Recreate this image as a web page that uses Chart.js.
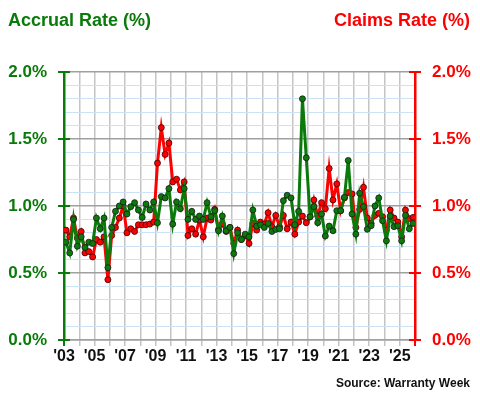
<!DOCTYPE html>
<html>
<head>
<meta charset="utf-8">
<script src="https://cdn.jsdelivr.net/npm/chart.js@4/dist/chart.umd.min.js"></script>
<style>
  body { margin: 0; background: #fff; }
  #wrap { position: relative; width: 480px; height: 400px; font-family: "Liberation Sans", Arial, sans-serif; font-weight: bold; }
  .lbl { position: absolute; white-space: nowrap; }
</style>
</head>
<body>
<div id="wrap">
  <canvas id="grafico" width="480" height="400"></canvas>
  <div class="lbl" style="left:8px; top:10px; font-size:18px; color:#0a7a0a;">Accrual Rate (%)</div>
  <div class="lbl" style="right:10px; top:10px; font-size:18px; color:#ff0000;">Claims Rate (%)</div>
  <div class="lbl" style="right:10px; top:376px; font-size:12px; color:#111;">Source: Warranty Week</div>
</div>
<script>
// datos trimestrales 2003 Q1 .. 2025 Q4
const primerAnio = 2003;
const ultimoAnio = 2026;
const aniosEtiqueta = [2003, 2005, 2007, 2009, 2011, 2013, 2015, 2017, 2019, 2021, 2023, 2025];

const accrualRate = [
  0.73, 0.65, 0.90, 0.70, 0.77, 0.69, 0.73, 0.72,
  0.91, 0.83, 0.91, 0.54, 0.84, 0.96, 1.00, 1.03,
  0.94, 0.995, 1.025, 0.97, 0.915, 1.015, 0.97, 1.03,
  0.875, 1.07, 1.06, 1.13, 0.865, 1.03, 0.98, 1.13,
  0.90, 0.96, 0.90, 0.925, 0.90, 1.025, 0.92, 0.965,
  0.815, 0.925, 0.815, 0.84, 0.645, 0.80, 0.75, 0.79,
  0.77, 0.97, 0.85, 0.86, 0.84, 0.87, 0.81, 0.825,
  0.83, 1.04, 1.08, 1.06, 0.86, 0.96, 1.80, 1.36,
  0.92, 0.995, 0.875, 0.94, 0.776, 0.85, 0.815, 0.965,
  0.965, 1.065, 1.34, 0.94, 0.79, 1.095, 0.995, 0.826,
  0.853, 1.00, 1.06, 0.89, 0.74, 0.925, 0.846, 0.853,
  0.74, 0.93, 0.83, 0.87
];

const claimsRate = [
  0.82, 0.77, 0.91, 0.76, 0.81, 0.65, 0.66, 0.62,
  0.75, 0.73, 0.77, 0.45, 0.78, 0.84, 0.91, 1.00,
  0.80, 0.83, 0.81, 0.86, 0.86, 0.86, 0.865, 0.88,
  1.32, 1.585, 1.385, 1.47, 1.18, 1.20, 1.12, 1.18,
  0.78, 0.83, 0.79, 0.895, 0.77, 0.91, 0.895, 0.975,
  0.825, 0.865, 0.81, 0.84, 0.72, 0.82, 0.75, 0.78,
  0.72, 0.87, 0.82, 0.88, 0.865, 0.95, 0.845, 0.93,
  0.845, 0.93, 0.83, 0.88, 0.79, 0.88, 0.925, 0.875,
  0.92, 1.045, 0.925, 1.025, 0.98, 1.28, 1.045, 1.165,
  0.965, 1.06, 1.10, 1.09, 0.84, 0.975, 1.14, 0.91,
  0.87, 0.93, 0.945, 0.92, 0.82, 0.97, 0.91, 0.88,
  0.77, 0.97, 0.905, 0.915
];

const verde = '#0a7a0a';
const rojo = '#ff0000';

function puntos(serie) {
  return serie.map((v, i) => ({ x: primerAnio + (i + 0.5) / 4, y: v }));
}

function esMayor(v) {
  return Math.abs(Math.round(v * 10) % 5) === 0;
}

// marcas cruzadas en los ejes verticales
const marcasEjes = {
  id: 'marcasEjes',
  afterDraw(chart) {
    const ctx = chart.ctx;
    const area = chart.chartArea;
    [['y', area.left, verde], ['y2', area.right, rojo]].forEach(([id, xEje, color]) => {
      const escala = chart.scales[id];
      ctx.save();
      ctx.strokeStyle = color;
      ctx.lineWidth = 2;
      [0, 0.5, 1, 1.5, 2].forEach((v) => {
        const y = escala.getPixelForValue(v);
        ctx.beginPath();
        ctx.moveTo(xEje - 6, y);
        ctx.lineTo(xEje + 6, y);
        ctx.stroke();
      });
      ctx.beginPath();
      ctx.moveTo(xEje, area.bottom);
      ctx.lineTo(xEje, area.bottom + 6);
      ctx.stroke();
      ctx.restore();
    });
  }
};

new Chart(document.getElementById('grafico'), {
  type: 'line',
  data: {
    datasets: [
      {
        label: 'Accrual Rate',
        data: puntos(accrualRate),
        yAxisID: 'y',
        borderColor: verde,
        backgroundColor: verde,
        borderWidth: 3,
        pointRadius: 3,
        pointBorderColor: '#1a1a1a',
        pointBorderWidth: 0.8,
        pointBackgroundColor: verde,
        tension: 0,
      },
      {
        label: 'Claims Rate',
        data: puntos(claimsRate),
        yAxisID: 'y2',
        borderColor: rojo,
        backgroundColor: rojo,
        borderWidth: 3,
        pointRadius: 3,
        pointBorderColor: '#3a0000',
        pointBorderWidth: 0.8,
        pointBackgroundColor: rojo,
        tension: 0,
      },
    ],
  },
  options: {
    responsive: false,
    animation: false,
    layout: { padding: { top: 72, left: 0, right: 0, bottom: 0 } },
    plugins: { legend: { display: false }, tooltip: { enabled: false } },
    scales: {
      x: {
        type: 'linear',
        min: primerAnio,
        max: ultimoAnio,
        afterFit: (s) => { s.height = 60; },
        ticks: {
          stepSize: 1,
          autoSkip: false,
          maxRotation: 0,
          padding: 1,
          color: '#111',
          font: { family: 'Liberation Sans', size: 16, weight: 'bold' },
          callback: (v) => aniosEtiqueta.includes(v) ? "'" + String(v).slice(2) : '',
        },
        grid: {
          color: '#c4c4c4',
          lineWidth: 1.5,
          tickLength: 6,
        },
        border: { color: '#a0a0a0', width: 1.5 },
      },
      y: {
        position: 'left',
        min: 0,
        max: 2,
        afterFit: (s) => { s.width = 64; },
        ticks: {
          stepSize: 0.1,
          autoSkip: false,
          padding: 12,
          color: verde,
          font: { family: 'Liberation Sans', size: 17, weight: 'bold' },
          callback: (v) => esMayor(v) ? v.toFixed(1) + '%' : '',
        },
        grid: {
          color: (c) => esMayor(c.tick.value) ? '#a0a0a0' : '#cde1f7',
          lineWidth: (c) => esMayor(c.tick.value) ? 1.5 : 1,
          tickLength: 5,
          tickColor: 'rgba(0,0,0,0)',
        },
        border: { color: verde, width: 2.5 },
      },
      y2: {
        position: 'right',
        min: 0,
        max: 2,
        afterFit: (s) => { s.width = 65; },
        ticks: {
          stepSize: 0.1,
          autoSkip: false,
          padding: 12,
          color: rojo,
          font: { family: 'Liberation Sans', size: 17, weight: 'bold' },
          callback: (v) => esMayor(v) ? v.toFixed(1) + '%' : '',
        },
        grid: {
          drawOnChartArea: false,
          tickLength: 5,
          tickColor: 'rgba(0,0,0,0)',
        },
        border: { color: rojo, width: 2.5 },
      },
    },
  },
  plugins: [marcasEjes],
});
</script>
</body>
</html>
